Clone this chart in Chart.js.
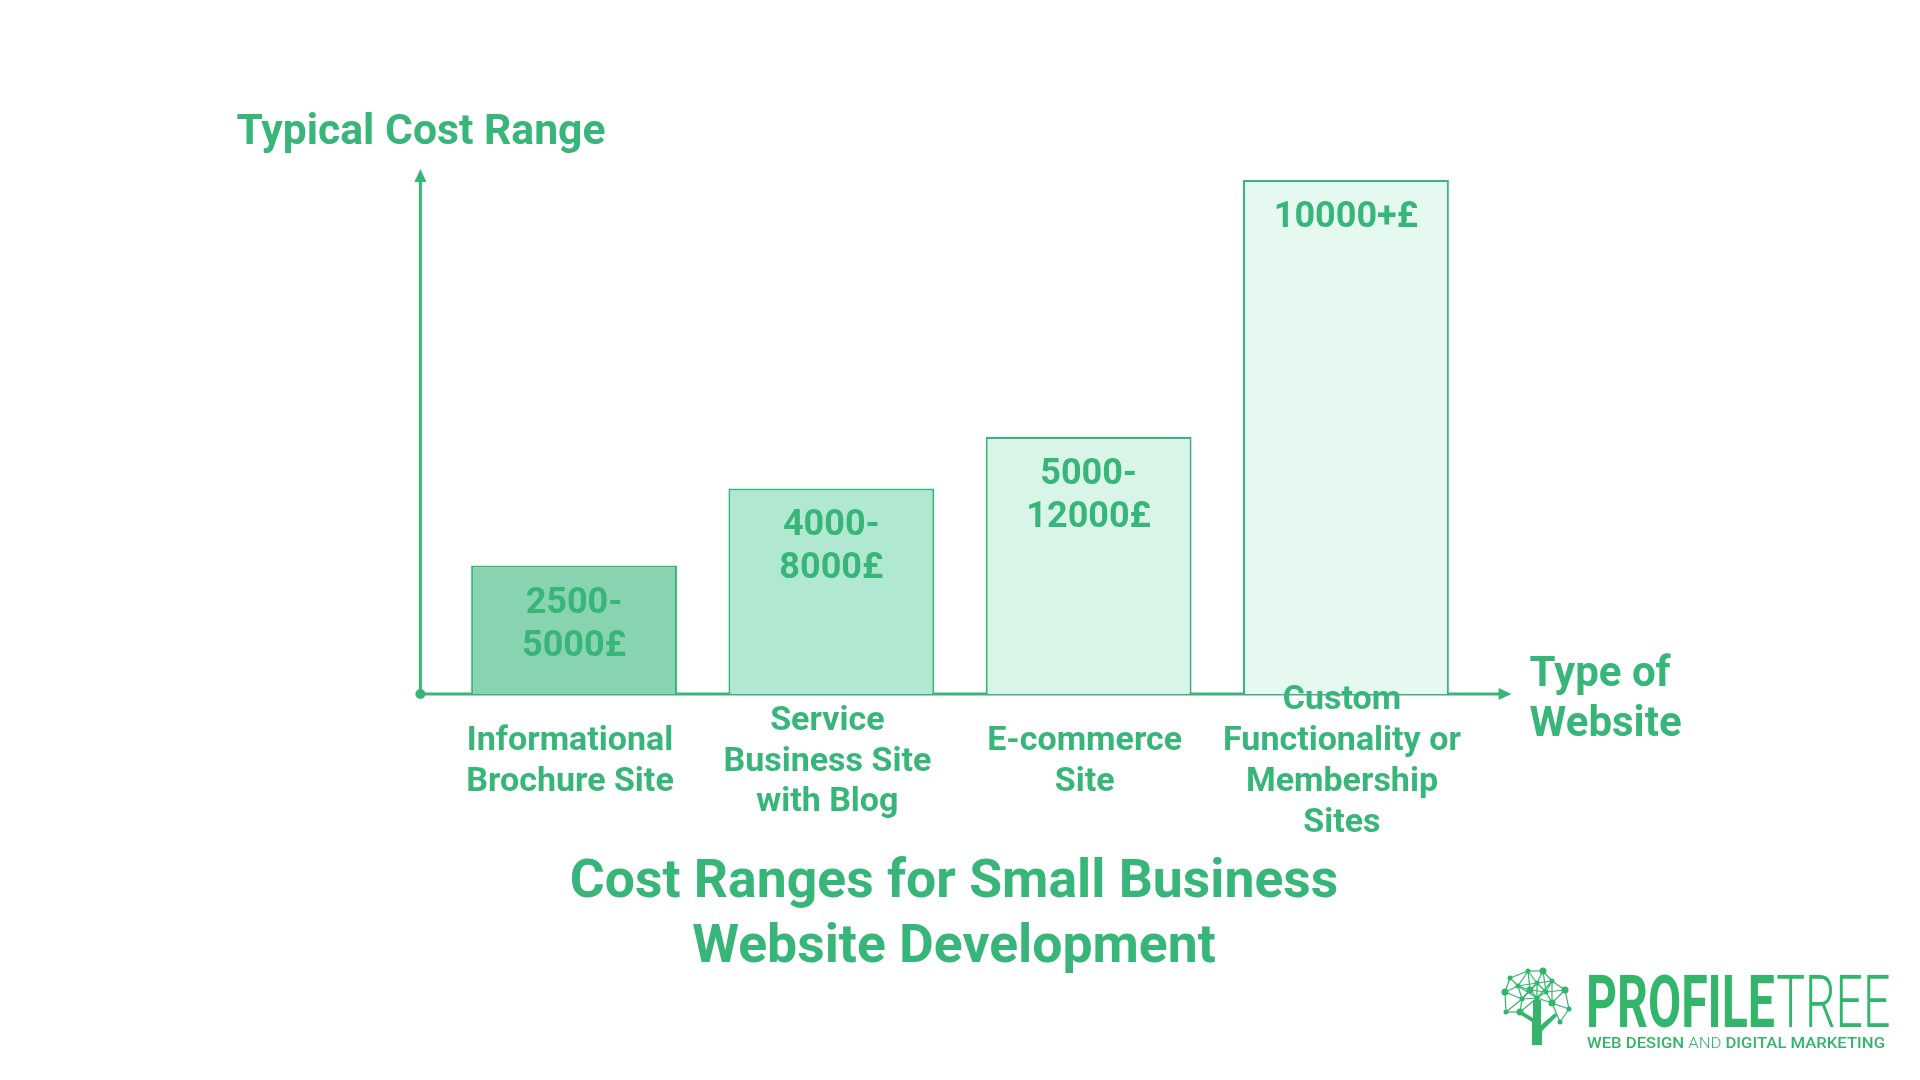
<!DOCTYPE html>
<html><head><meta charset="utf-8">
<script src="https://cdn.jsdelivr.net/npm/chart.js@4/dist/chart.umd.min.js"></script>
<style>html,body{margin:0;padding:0;background:#fff;}#wrap{width:1920px;height:1080px;}</style>
</head><body><div id="wrap"><canvas id="c" width="1920" height="1080"></canvas></div>
<script>
// ---- data ----
const categories = [["Informational","Brochure Site"],["Service","Business Site","with Blog"],["E-commerce","Site"],["Custom","Functionality or","Membership","Sites"]];
const costLowerBound = [2500, 4000, 5000, 10000];
const costRangeLabels = [["2500-","5000£"],["4000-","8000£"],["5000-","12000£"],["10000+£"]];
const yAxisTitle = "Typical Cost Range";
const xAxisTitle = ["Type of", "Website"];
const chartTitle = ["Cost Ranges for Small Business", "Website Development"];
const logoMain = ["PROFILE", "TREE"];
const logoSub = [["WEB DESIGN ", "500"], ["AND ", "300"], ["DIGITAL MARKETING", "500"]];

// ---- styles ----
const GREEN = '#38b67a';
const barFills = ['#88d3b0', '#b1e8d2', '#d8f5e8', '#e5f9f0'];
const FONT = 'Roboto';

const decor = {
  id: 'decor',
  beforeDatasetsDraw(chart) {
    const ctx = chart.ctx, a = chart.chartArea;
    const x0 = a.left - 25, y0 = chart.scales.y.getPixelForValue(0);
    ctx.save();
    ctx.strokeStyle = GREEN; ctx.fillStyle = GREEN; ctx.lineWidth = 3;
    ctx.beginPath(); ctx.moveTo(x0, y0); ctx.lineTo(x0, a.top - 2); ctx.stroke();
    ctx.beginPath(); ctx.moveTo(x0, a.top - 11); ctx.lineTo(x0 - 6, a.top + 2); ctx.lineTo(x0 + 6, a.top + 2); ctx.closePath(); ctx.fill();
    const xr = a.right + 37;
    ctx.beginPath(); ctx.moveTo(x0, y0); ctx.lineTo(xr - 10, y0); ctx.stroke();
    ctx.beginPath(); ctx.moveTo(xr, y0); ctx.lineTo(xr - 13, y0 - 6); ctx.lineTo(xr - 13, y0 + 6); ctx.closePath(); ctx.fill();
    ctx.beginPath(); ctx.arc(x0, y0, 5, 0, Math.PI * 2); ctx.fill();
    ctx.restore();
  },
  afterDatasetsDraw(chart) {
    const ctx = chart.ctx, a = chart.chartArea;
    const xs = chart.scales.x, y0 = chart.scales.y.getPixelForValue(0);
    ctx.save();
    ctx.fillStyle = GREEN;
    ctx.textAlign = 'center'; ctx.textBaseline = 'middle';
    // value labels inside bars
    ctx.font = 'bold 36px ' + FONT;
    chart.getDatasetMeta(0).data.forEach((bar, i) => {
      costRangeLabels[i].forEach((t, j) => ctx.fillText(t, bar.x, bar.y + 38 + j * 43));
    });
    // category labels (centred block under each category)
    ctx.font = 'bold 34px ' + FONT;
    const lh = 40.8;
    categories.forEach((lines, i) => {
      const cx = xs.getPixelForValue(i) - 4;
      const cy = y0 + 68;
      lines.forEach((t, j) => ctx.fillText(t, cx, cy + (j - (lines.length - 1) / 2) * lh));
    });
    // axis titles
    ctx.textAlign = 'left';
    ctx.font = 'bold 42.7px ' + FONT;
    ctx.fillText(yAxisTitle, a.left - 209, a.top - 47);
    ctx.font = 'bold 42px ' + FONT;
    xAxisTitle.forEach((t, j) => ctx.fillText(t, a.right + 55, y0 - 19 + j * 50));
    drawLogo(ctx);
    ctx.restore();
  }
};

function drawLogo(ctx) {
  ctx.save();
  const LG = '#33b56c';
  ctx.fillStyle = LG; ctx.strokeStyle = LG;
  const nodes = [[1505,992],[1510,978],[1528,971],[1543,971],[1537,983],[1552,981],[1565,990],[1537,998],[1522,999],[1552,1003],[1569,1009],[1506,1012],[1520,1012],[1560,1022],[1518,986],[1530,990],[1546,992]];
  ctx.lineWidth = 1.2;
  for (let i = 0; i < nodes.length; i++) for (let j = i + 1; j < nodes.length; j++) {
    const dx = nodes[i][0] - nodes[j][0], dy = nodes[i][1] - nodes[j][1];
    if (Math.hypot(dx, dy) < 23) { ctx.beginPath(); ctx.moveTo(nodes[i][0], nodes[i][1]); ctx.lineTo(nodes[j][0], nodes[j][1]); ctx.stroke(); }
  }
  nodes.forEach((n, k) => { ctx.beginPath(); ctx.arc(n[0], n[1], k % 3 === 0 ? 3.5 : 2.5, 0, Math.PI * 2); ctx.fill(); });
  ctx.beginPath();
  ctx.moveTo(1533, 1000); ctx.lineTo(1541, 1000); ctx.lineTo(1541, 1025); ctx.lineTo(1555, 1013); ctx.lineTo(1557, 1016);
  ctx.lineTo(1542, 1031); ctx.lineTo(1542, 1045); ctx.lineTo(1532, 1045); ctx.lineTo(1532, 1022); ctx.lineTo(1518, 1013);
  ctx.lineTo(1520, 1010); ctx.lineTo(1533, 1018); ctx.closePath(); ctx.fill();
  ctx.textBaseline = 'alphabetic'; ctx.textAlign = 'left';
  ctx.save();
  ctx.translate(1586, 1027); ctx.scale(0.66, 1);
  ctx.font = 'bold 73px ' + FONT;
  ctx.fillText(logoMain[0], 0, 0);
  const w0 = ctx.measureText(logoMain[0]).width;
  ctx.font = '300 73px ' + FONT;
  ctx.fillText(logoMain[1], w0 + 2, 0);
  ctx.restore();
  ctx.save();
  let total = 0;
  logoSub.forEach(([t, w]) => { ctx.font = w + ' 15px ' + FONT; total += ctx.measureText(t).width; });
  ctx.translate(1587, 1048); ctx.scale(298 / total, 1);
  let x = 0;
  logoSub.forEach(([t, w]) => { ctx.font = w + ' 15px ' + FONT; ctx.fillText(t, x, 0); x += ctx.measureText(t).width; });
  ctx.restore();
  ctx.restore();
}

new Chart(document.getElementById('c'), {
  type: 'bar',
  data: {
    labels: categories,
    datasets: [{
      data: costLowerBound,
      backgroundColor: barFills,
      borderColor: GREEN,
      borderWidth: 2,
      barPercentage: 0.8,
      categoryPercentage: 1.0
    }]
  },
  options: {
    responsive: false,
    devicePixelRatio: 1,
    animation: false,
    layout: { padding: { left: 433.4, right: 445.4, top: 180, bottom: 99.7 } },
    plugins: {
      legend: { display: false },
      tooltip: { enabled: false },
      title: {
        display: true,
        text: chartTitle,
        position: 'bottom',
        color: GREEN,
        font: { family: FONT, size: 53.5, weight: 'bold', lineHeight: 1.2 },
        padding: { top: 157.9, bottom: 0 }
      }
    },
    scales: {
      x: {
        display: false
      },
      y: {
        display: true,
        min: 0,
        max: 10000,
        grid: { display: false, drawTicks: false },
        border: { display: false },
        ticks: { display: false },
        afterFit: (scale) => { scale.width = 12; }
      }
    }
  },
  plugins: [decor]
});
</script>
</body></html>
